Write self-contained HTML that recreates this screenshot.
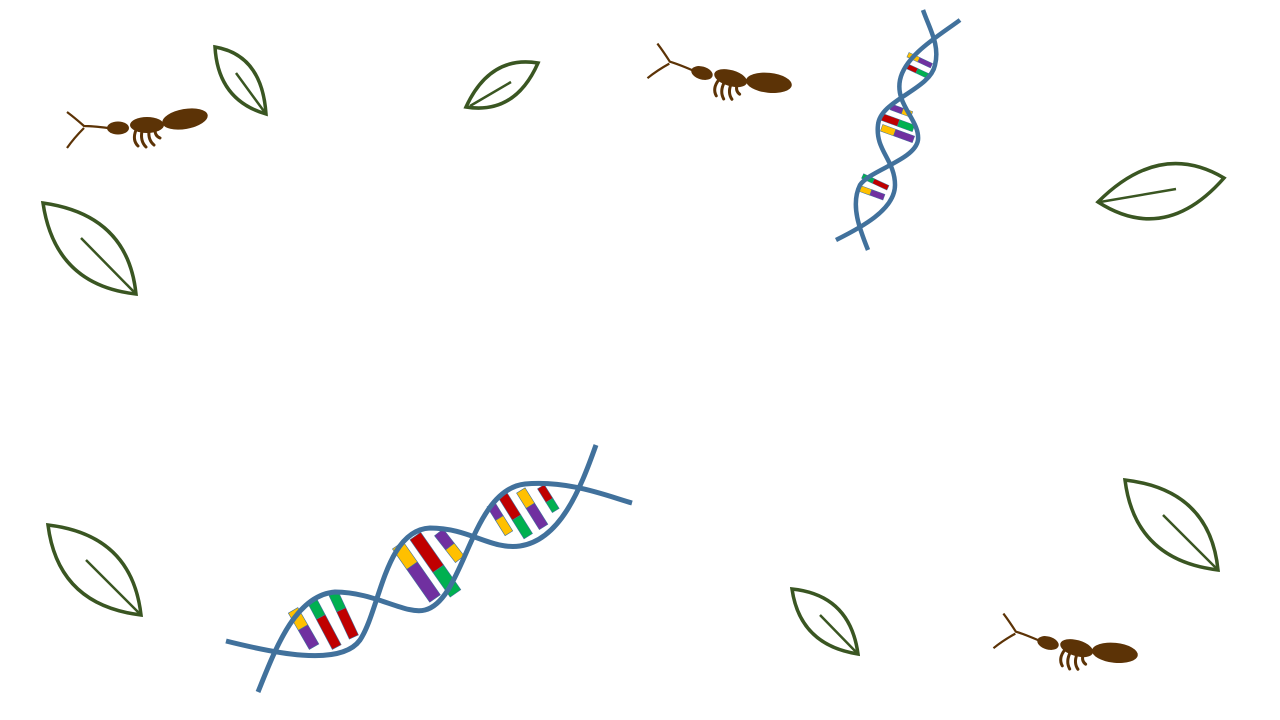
<!DOCTYPE html>
<html><head><meta charset="utf-8"><style>
html,body{margin:0;padding:0;background:#fff;width:1280px;height:720px;overflow:hidden}
</style></head><body>
<svg width="1280" height="720" viewBox="0 0 1280 720" xmlns="http://www.w3.org/2000/svg">
<defs>
<g id="ant">
  <path d="M108,128 Q92,126 84,126 Q75,118 67,112 M84,128 Q74,138 67,148" stroke="#5c3306" stroke-width="2.2" fill="none"/>
  <ellipse cx="118" cy="128" rx="11" ry="6.5" fill="#5c3306"/>
  <ellipse cx="147" cy="125" rx="17" ry="8" fill="#5c3306"/>
  <ellipse cx="185" cy="119" rx="23" ry="10" transform="rotate(-10 185 119)" fill="#5c3306"/>
  <path d="M136,130 Q132,140 138,146 M142,131 Q140,141 146,147 M149,131 Q148,140 154,145 M155,130 Q155,136 160,138" stroke="#5c3306" stroke-width="3" fill="none" stroke-linecap="round"/>
</g>
</defs>
<g fill="none" stroke="#3a5622" stroke-width="3.5">
  <g><path d="M215,47 Q262,55 266,114 Q218,100 215,47Z"/><line x1="236" y1="73" x2="266" y2="114" stroke-width="2.5"/></g>
  <g><path d="M43,203 Q128,215 136,294 Q55,285 43,203Z"/><line x1="81" y1="238" x2="136" y2="294" stroke-width="2.5"/></g>
  <g><path d="M466,107 Q490,55 538,63 Q515,115 466,107Z"/><line x1="470" y1="106" x2="511" y2="82" stroke-width="2.5"/></g>
  <g><path d="M1098,202 Q1160,140 1224,178 Q1165,245 1098,202Z"/><line x1="1100" y1="202" x2="1176" y2="189" stroke-width="2.5"/></g>
  <g><path d="M48,525 Q132,535 141,615 Q58,605 48,525Z"/><line x1="86" y1="560" x2="141" y2="615" stroke-width="2.5"/></g>
  <g><path d="M1125,480 Q1210,490 1218,570 Q1135,560 1125,480Z"/><line x1="1163" y1="515" x2="1218" y2="570" stroke-width="2.5"/></g>
  <g><path d="M792,589 Q850,595 858,654 Q800,645 792,589Z"/><line x1="820" y1="615" x2="858" y2="654" stroke-width="2.5"/></g>
</g>
<g>
  <use href="#ant"/>
  <use href="#ant" transform="translate(584,-55) rotate(16 118 128)"/>
  <use href="#ant" transform="translate(930,515) rotate(16 118 128)"/>
</g>
<g>
  <g stroke="#41719c" stroke-width="0.6">
    <g transform="rotate(60 305 630)"><rect x="282" y="625" width="20" height="11" fill="#ffc000"/><rect x="302" y="625" width="22" height="11" fill="#7030a0"/></g>
    <g transform="rotate(62 325 625)"><rect x="296" y="620" width="20" height="10" fill="#00b050"/><rect x="316" y="620" width="34" height="10" fill="#c00000"/></g>
    <g transform="rotate(65 345 618)"><rect x="318" y="613" width="18" height="10" fill="#00b050"/><rect x="336" y="613" width="30" height="10" fill="#c00000"/></g>
    <g transform="rotate(55 418 575)"><rect x="382" y="568" width="25" height="13" fill="#ffc000"/><rect x="407" y="568" width="40" height="13" fill="#7030a0"/></g>
    <g transform="rotate(55 435 565)"><rect x="400" y="558" width="40" height="13" fill="#c00000"/><rect x="440" y="558" width="30" height="13" fill="#00b050"/></g>
    <g transform="rotate(52 452 550)"><rect x="430" y="544" width="18" height="11" fill="#7030a0"/><rect x="448" y="544" width="16" height="11" fill="#ffc000"/></g>
    <g transform="rotate(58 500 520)"><rect x="482" y="515" width="16" height="9" fill="#7030a0"/><rect x="498" y="515" width="18" height="9" fill="#ffc000"/></g>
    <g transform="rotate(58 515 515)"><rect x="490" y="510" width="28" height="10" fill="#c00000"/><rect x="518" y="510" width="22" height="10" fill="#00b050"/></g>
    <g transform="rotate(58 533 510)"><rect x="510" y="505" width="18" height="10" fill="#ffc000"/><rect x="528" y="505" width="25" height="10" fill="#7030a0"/></g>
    <g transform="rotate(58 548 500)"><rect x="533" y="495" width="16" height="8" fill="#c00000"/><rect x="549" y="495" width="12" height="8" fill="#00b050"/></g>
  </g>
  <path d="M226,641 C270,652 340,668 360,640 C380,610 385,530 430,528 C470,528 490,550 520,546 C560,540 580,490 596,445" stroke="#41719c" stroke-width="5" fill="none"/>
  <path d="M258,692 C275,650 295,595 335,592 C375,592 405,615 425,610 C465,600 470,490 525,484 C570,480 610,497 632,503" stroke="#41719c" stroke-width="5" fill="none"/>
</g>
<g>
  <g stroke="#41719c" stroke-width="0.5">
    <g transform="rotate(20 872 195)"><rect x="858" y="190" width="12" height="6" fill="#ffc000"/><rect x="870" y="190" width="14" height="6" fill="#7030a0"/></g>
    <g transform="rotate(25 876 185)"><rect x="860" y="180" width="12" height="5" fill="#00b050"/><rect x="872" y="180" width="16" height="5" fill="#c00000"/></g>
    <g transform="rotate(20 897 135)"><rect x="880" y="130" width="14" height="7" fill="#ffc000"/><rect x="894" y="130" width="20" height="7" fill="#7030a0"/></g>
    <g transform="rotate(20 897 124)"><rect x="878" y="119" width="20" height="7" fill="#c00000"/><rect x="898" y="119" width="16" height="7" fill="#00b050"/></g>
    <g transform="rotate(20 902 112)"><rect x="890" y="108" width="12" height="6" fill="#7030a0"/><rect x="902" y="108" width="10" height="6" fill="#ffc000"/></g>
    <g transform="rotate(25 918 73)"><rect x="904" y="69" width="12" height="5" fill="#c00000"/><rect x="916" y="69" width="12" height="5" fill="#00b050"/></g>
    <g transform="rotate(25 920 62)"><rect x="906" y="58" width="12" height="5" fill="#ffc000"/><rect x="918" y="58" width="14" height="5" fill="#7030a0"/></g>
  </g>
  <path d="M836,240 C860,228 895,210 895,185 C895,160 875,150 878,125 C880,100 930,90 935,65 C940,45 930,30 923,10" stroke="#41719c" stroke-width="4.5" fill="none"/>
  <path d="M868,250 C860,230 850,205 860,185 C870,170 915,160 918,140 C920,120 895,105 900,80 C905,55 940,35 960,20" stroke="#41719c" stroke-width="4.5" fill="none"/>
</g>
</svg>
</body></html>
